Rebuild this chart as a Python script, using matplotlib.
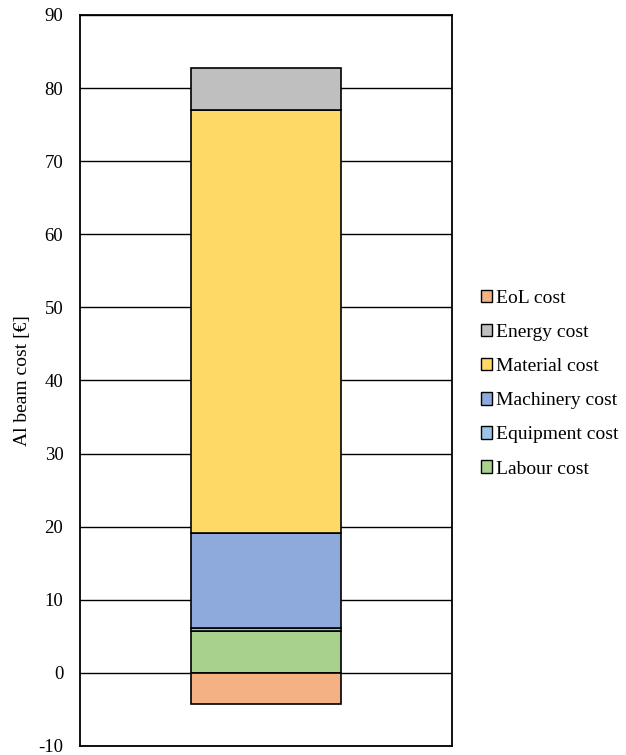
import numpy as np
import matplotlib.pyplot as plt
from matplotlib.patches import Patch

plt.rcParams['font.family'] = ['Liberation Serif', 'DejaVu Serif']
plt.rcParams['axes.unicode_minus'] = False

# stacked cost components (EUR), bottom to top
components = ['Labour cost', 'Equipment cost', 'Machinery cost', 'Material cost', 'Energy cost']
values = [5.8, 0.3, 13.0, 57.9, 5.8]
colors = ['#A9D18E', '#9DC3E6', '#8EA9DB', '#FFD966', '#BFBFBF']
eol_label = 'EoL cost'
eol_value = -4.2
eol_color = '#F4B183'

yticks = np.arange(-10, 91, 10)

fig = plt.figure(figsize=(6.26, 7.55), dpi=100)
ax = fig.add_axes([80 / 626, 9 / 755, 372 / 626, 731 / 755])

ax.set_axisbelow(True)
ax.yaxis.grid(True, color='black', linewidth=1.0)

x = 0.5
width = 0.403
bottom = 0.0
for name, val, col in zip(components, values, colors):
    ax.bar(x, val, width, bottom=bottom, color=col, edgecolor='black', linewidth=1.2)
    bottom += val
ax.bar(x, eol_value, width, bottom=0, color=eol_color, edgecolor='black', linewidth=1.2)

ax.set_xlim(0, 1)
ax.set_ylim(-10, 90)
ax.set_yticks(yticks)
ax.set_xticks([])
ax.tick_params(axis='y', length=0, pad=12, labelsize=13.5)
for s in ax.spines.values():
    s.set_linewidth(1.3)
    s.set_color('black')

ax.set_ylabel('Al beam cost [€]', fontsize=14, labelpad=5)

# legend lists top of stack first
handles = [Patch(facecolor=eol_color, edgecolor='black', label=eol_label)]
for name, col in zip(components[::-1], colors[::-1]):
    handles.append(Patch(facecolor=col, edgecolor='black', label=name))
fig.legend(handles=handles, loc='upper left', bbox_to_anchor=(473 / 626, 1 - 282 / 755),
           frameon=False, fontsize=14, handlelength=0.6, handleheight=0.6,
           handletextpad=0.2, labelspacing=0.88, borderaxespad=0)

fig.savefig('out.png', dpi=100)
